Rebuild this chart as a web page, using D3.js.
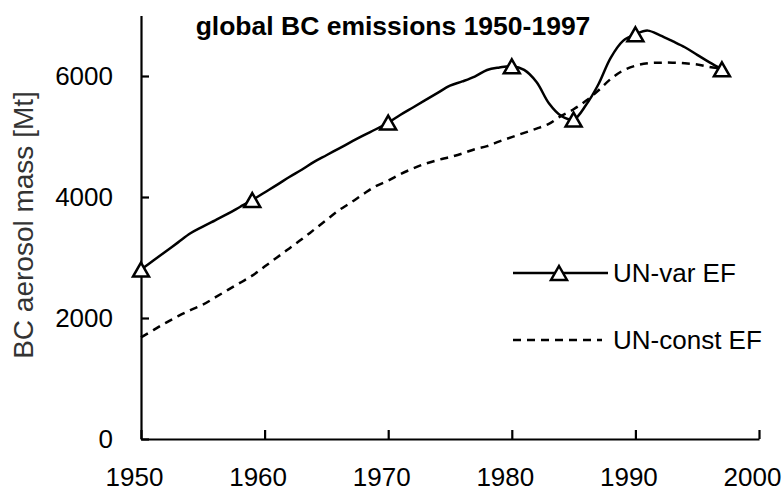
<!DOCTYPE html>
<html>
<head>
<meta charset="utf-8">
<script src="https://cdn.jsdelivr.net/npm/d3@7"></script>
<style>
  body { margin: 0; background: #fff; }
  text { font-family: Arial, "Liberation Sans", sans-serif; }
</style>
</head>
<body>
<div id="chart"></div>
<script>
// chart data
var years = [1950, 1951, 1952, 1953, 1954, 1955, 1956, 1957, 1958, 1959,
  1960, 1961, 1962, 1963, 1964, 1965, 1966, 1967, 1968, 1969,
  1970, 1971, 1972, 1973, 1974, 1975, 1976, 1977, 1978, 1979,
  1980, 1981, 1982, 1983, 1984, 1985, 1986, 1987, 1988, 1989,
  1990, 1991, 1992, 1993, 1994, 1995, 1996, 1997];

var unVar = [2800, 2950, 3100, 3250, 3400, 3510, 3615, 3720, 3835, 3950,
  4075, 4200, 4330, 4450, 4580, 4690, 4800, 4910, 5020, 5120,
  5230, 5360, 5480, 5600, 5720, 5840, 5910, 5990, 6100, 6140,
  6160, 6100, 5900, 5550, 5340, 5280, 5520, 5860, 6300, 6580,
  6690, 6750, 6670, 6575, 6475, 6350, 6225, 6110];

var unConst = [1680, 1800, 1920, 2030, 2130, 2220, 2340, 2460, 2580, 2700,
  2850, 3000, 3150, 3300, 3460, 3620, 3780, 3910, 4050, 4180,
  4270, 4380, 4470, 4550, 4610, 4660, 4720, 4790, 4840, 4920,
  4990, 5060, 5130, 5210, 5340, 5450, 5590, 5760, 5950, 6090,
  6170, 6210, 6220, 6220, 6210, 6190, 6150, 6120];

var markerYears = [1950, 1959, 1970, 1980, 1985, 1990, 1997];
var xTicks = [1950, 1960, 1970, 1980, 1990, 2000];
var yTicks = [0, 2000, 4000, 6000];
var seriesNames = ["UN-var EF", "UN-const EF"];

var svgWidth = 783;
var svgHeight = 491;

var svg = d3.select("#chart")
  .append("svg")
  .attr("width", svgWidth)
  .attr("height", svgHeight);

// scales
var x = d3.scaleLinear().domain([1950, 2000]).range([141, 759]);
var y = d3.scaleLinear().domain([0, 7000]).range([439, 15.5]);

// axes, ticks pointing inward
var yAxis = d3.axisLeft(y)
  .tickValues(yTicks)
  .tickSizeInner(-8)
  .tickSizeOuter(0)
  .tickPadding(28)
  .tickFormat(d3.format("d"));

var xAxis = d3.axisBottom(x)
  .tickValues(xTicks)
  .tickSizeInner(-9)
  .tickSizeOuter(0)
  .tickPadding(29)
  .tickFormat(d3.format("d"));

var gy = svg.append("g")
  .attr("transform", "translate(141,0)")
  .call(yAxis);

var gx = svg.append("g")
  .attr("transform", "translate(0,439)")
  .call(xAxis);

[gx, gy].forEach(function(g) {
  g.select(".domain").attr("stroke", "#000").attr("stroke-width", 2.2);
  g.selectAll(".tick line").attr("stroke", "#000").attr("stroke-width", 2.2);
  g.selectAll(".tick text")
    .attr("fill", "#000")
    .style("font-size", "26px")
    .style("font-family", "Arial, 'Liberation Sans', sans-serif");
});
gx.selectAll(".tick text").attr("dx", -7);

// y axis title
svg.append("text")
  .attr("transform", "translate(33,225) rotate(-90)")
  .attr("text-anchor", "middle")
  .style("font-size", "28px")
  .attr("fill", "#333")
  .text("BC aerosol mass [Mt]");

// chart title
svg.append("text")
  .attr("x", 393)
  .attr("y", 35)
  .attr("text-anchor", "middle")
  .style("font-size", "26.5px")
  .style("font-weight", "bold")
  .text("global BC emissions 1950-1997");

var line = d3.line()
  .x(function(d) { return x(d[0]); })
  .y(function(d) { return y(d[1]); })
  .curve(d3.curveCatmullRom.alpha(0.5));

var varData = years.map(function(yr, i) { return [yr, unVar[i]]; });
var constData = years.map(function(yr, i) { return [yr, unConst[i]]; });

svg.append("path")
  .datum(constData)
  .attr("fill", "none")
  .attr("stroke", "#000")
  .attr("stroke-width", 2.5)
  .attr("stroke-dasharray", "8,6")
  .attr("d", line);

svg.append("path")
  .datum(varData)
  .attr("fill", "none")
  .attr("stroke", "#000")
  .attr("stroke-width", 2.5)
  .attr("d", line);

// triangle marker, centred on its bounding box
function triangle(cx, cy) {
  var w = 16, h = 14;
  return "M" + cx + "," + (cy - h / 2) +
    "L" + (cx + w / 2) + "," + (cy + h / 2) +
    "L" + (cx - w / 2) + "," + (cy + h / 2) + "Z";
}

svg.selectAll(".marker")
  .data(varData.filter(function(d) { return markerYears.indexOf(d[0]) >= 0; }))
  .enter()
  .append("path")
  .attr("class", "marker")
  .attr("d", function(d) { return triangle(x(d[0]), y(d[1])); })
  .attr("fill", "#fff")
  .attr("stroke", "#000")
  .attr("stroke-width", 2.5);

// legend
var legend = svg.append("g");
legend.append("line")
  .attr("x1", 513).attr("x2", 608)
  .attr("y1", 273).attr("y2", 273)
  .attr("stroke", "#000").attr("stroke-width", 2.5);
legend.append("path")
  .attr("d", triangle(559, 273))
  .attr("fill", "#fff").attr("stroke", "#000").attr("stroke-width", 2.5);
legend.append("text")
  .attr("x", 613).attr("y", 273).attr("dy", "0.35em")
  .style("font-size", "26px")
  .text(seriesNames[0]);

legend.append("line")
  .attr("x1", 513).attr("x2", 602)
  .attr("y1", 340).attr("y2", 340)
  .attr("stroke", "#000").attr("stroke-width", 2.5)
  .attr("stroke-dasharray", "8,6");
legend.append("text")
  .attr("x", 613).attr("y", 340).attr("dy", "0.35em")
  .style("font-size", "26px")
  .text(seriesNames[1]);
</script>
</body>
</html>
